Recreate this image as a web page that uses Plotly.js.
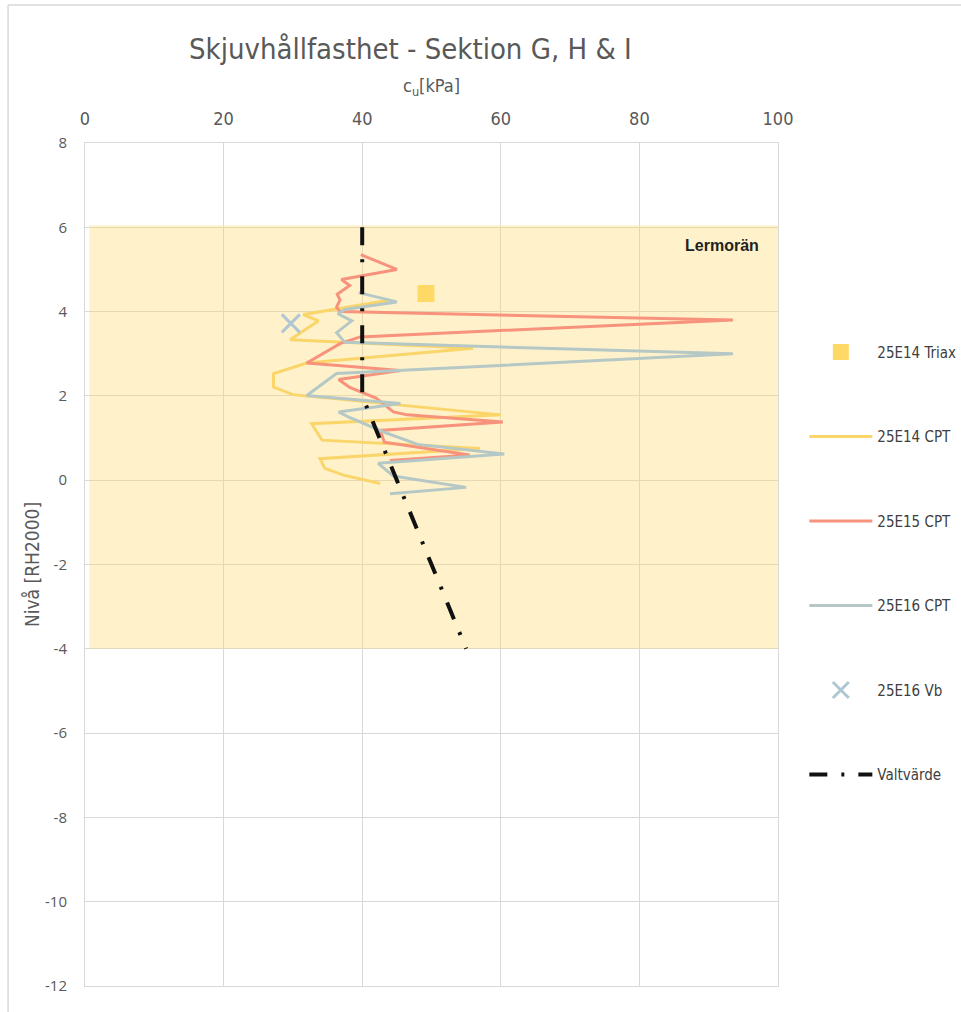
<!DOCTYPE html>
<html>
<head>
<meta charset="utf-8">
<script src="https://cdn.plot.ly/plotly-3.0.1.min.js"></script>
<style>
  html, body { margin: 0; padding: 0; background: #ffffff; }
  #chart { width: 961px; height: 1012px; }
</style>
</head>
<body>
<div id="chart"></div>
<script>
// Shear strength profile: undrained shear strength c_u [kPa] against level [RH2000]

// Soil layer (clay till) shown as a shaded band
var layerName = 'Lermorän';
var layerTop = 6;
var layerBottom = -4;

// 25E14 triaxial test
var triaxCu = [49.2];
var triaxLevel = [4.43];

// 25E14 CPT
var cpt14Cu = [43.8, 31.5, 33.7, 29.6, 56.0, 32.0, 27.2, 27.2, 30.0, 60.0, 32.7, 34.2, 57.0, 33.9, 34.6, 37.3, 42.6];
var cpt14Level = [4.27, 3.93, 3.78, 3.33, 3.13, 2.78, 2.53, 2.21, 2.03, 1.55, 1.34, 0.95, 0.75, 0.51, 0.28, 0.12, -0.08];

// 25E15 CPT
var cpt15Cu = [39.8, 45.0, 37.0, 38.2, 36.4, 36.8, 36.3, 36.8, 93.5, 39.7, 36.8, 32.0, 45.5, 36.6, 38.2, 42.0, 44.5, 46.5, 60.3, 42.6, 43.2, 55.5, 44.0];
var cpt15Level = [5.35, 5.0, 4.76, 4.62, 4.41, 4.28, 4.1, 4.0, 3.8, 3.4, 3.24, 2.78, 2.6, 2.39, 2.2, 1.95, 1.62, 1.55, 1.38, 1.18, 0.9, 0.6, 0.47];

// 25E16 CPT
var cpt16Cu = [39.5, 45.0, 37.5, 36.5, 38.5, 36.3, 37.5, 93.5, 36.3, 32.0, 45.5, 36.6, 38.0, 43.0, 48.0, 60.5, 42.3, 44.5, 55.0, 44.0];
var cpt16Level = [4.45, 4.23, 4.05, 3.95, 3.78, 3.5, 3.27, 3.0, 2.53, 2.01, 1.82, 1.62, 1.5, 1.15, 0.85, 0.62, 0.4, 0.1, -0.17, -0.32];

// 25E16 vane test
var vbCu = [29.7];
var vbLevel = [3.72];

// Selected design value
var valtCu = [40, 40, 55];
var valtLevel = [6, 2, -4];

// Axis ticks
var xTicks = [0, 20, 40, 60, 80, 100];
var yTicks = [8, 6, 4, 2, 0, -2, -4, -6, -8, -10, -12];
var yTickText = ['8', '6', '4', '2', '0', '-2', '-4', '-6', '-8', '-10', '-12'];

var narrow = '"Liberation Sans Narrow", "DejaVu Sans Condensed", "Arial Narrow", sans-serif';
var wide = '"Open Sans", "DejaVu Sans", sans-serif';

var traces = [
  {
    x: triaxCu, y: triaxLevel, name: '25E14 Triax', legendgroup: 'a',
    type: 'scatter', mode: 'markers',
    marker: { symbol: 'square', size: 17, color: '#FFD966' }
  },
  {
    x: cpt14Cu, y: cpt14Level, name: '25E14 CPT', legendgroup: 'b',
    type: 'scatter', mode: 'lines',
    line: { color: '#FAD56A', width: 3 }
  },
  {
    x: cpt15Cu, y: cpt15Level, name: '25E15 CPT', legendgroup: 'c',
    type: 'scatter', mode: 'lines',
    line: { color: '#F7937C', width: 3 }
  },
  {
    x: cpt16Cu, y: cpt16Level, name: '25E16 CPT', legendgroup: 'd',
    type: 'scatter', mode: 'lines',
    line: { color: '#B5C8C6', width: 3 }
  },
  {
    x: vbCu, y: vbLevel, name: '25E16 Vb', legendgroup: 'e',
    type: 'scatter', mode: 'markers',
    marker: { symbol: 'x-thin', size: 18, color: '#AFC7D3', line: { width: 3, color: '#AFC7D3' } }
  },
  {
    x: valtCu, y: valtLevel, name: 'Valtvärde', legendgroup: 'f',
    type: 'scatter', mode: 'lines',
    line: { color: '#111111', width: 4, dash: '18px,14px,3px,14px' }
  }
];

var layout = {
  width: 961,
  height: 1012,
  margin: { l: 85, r: 183, t: 143, b: 26, autoexpand: false },
  paper_bgcolor: '#ffffff',
  plot_bgcolor: '#ffffff',
  title: {
    text: 'Skjuvhållfasthet - Sektion G, H &amp; I',
    font: { family: narrow, size: 29, color: '#595959' },
    x: 0.427, xref: 'container', xanchor: 'center',
    y: 0.952, yref: 'container', yanchor: 'middle'
  },
  xaxis: {
    side: 'top',
    range: [0, 100],
    tickvals: xTicks,
    ticks: '',
    ticklabelstandoff: 10,
    showgrid: true,
    gridcolor: '#D9D9D9',
    gridwidth: 1,
    zeroline: false,
    showline: true,
    linecolor: '#D9D9D9',
    mirror: true,
    tickfont: { family: narrow, size: 18, color: '#595959' },
    title: {
      text: 'c<sub>u</sub>[kPa]',
      font: { family: narrow, size: 18, color: '#595959' },
      standoff: 10
    },
    fixedrange: true
  },
  yaxis: {
    range: [-12, 8],
    tickvals: yTicks,
    ticktext: yTickText,
    ticks: '',
    ticklabelstandoff: 14,
    showgrid: true,
    gridcolor: '#D9D9D9',
    gridwidth: 1,
    zeroline: false,
    showline: true,
    linecolor: '#D9D9D9',
    mirror: true,
    tickfont: { family: wide, size: 15, color: '#595959' },
    title: {
      text: 'Nivå [RH2000]',
      font: { family: narrow, size: 19, color: '#595959' },
      standoff: 0
    },
    fixedrange: true
  },
  showlegend: true,
  legend: {
    x: 1.038, xanchor: 'left',
    y: 0.7714, yanchor: 'top',
    tracegroupgap: 62,
    font: { family: narrow, size: 15, color: '#404040' },
    bgcolor: 'rgba(0,0,0,0)',
    itemwidth: 63
  },
  shapes: [
    {
      type: 'rect', xref: 'x', yref: 'y', layer: 'between',
      x0: 0.6, x1: 100, y0: layerBottom, y1: layerTop + 0.05,
      fillcolor: 'rgba(255,217,102,0.34)', line: { width: 0 }
    },
    {
      type: 'line', xref: 'paper', yref: 'paper',
      x0: -0.111, x1: -0.111, y0: -0.05, y1: 1.1637,
      line: { color: '#D9D9D9', width: 1.5 }
    },
    {
      type: 'line', xref: 'paper', yref: 'paper',
      x0: -0.111, x1: 1.3, y0: 1.1637, y1: 1.1637,
      line: { color: '#D9D9D9', width: 1.5 }
    }
  ],
  annotations: [
    {
      text: '<b>' + layerName + '</b>',
      xref: 'x', yref: 'y', x: 97.5, y: 5.57,
      xanchor: 'right', yanchor: 'middle', showarrow: false,
      font: { family: '"Liberation Sans", Arial, sans-serif', size: 16, color: '#222222' }
    }
  ]
};

Plotly.newPlot('chart', traces, layout, { displayModeBar: false, staticPlot: true });
</script>
</body>
</html>
